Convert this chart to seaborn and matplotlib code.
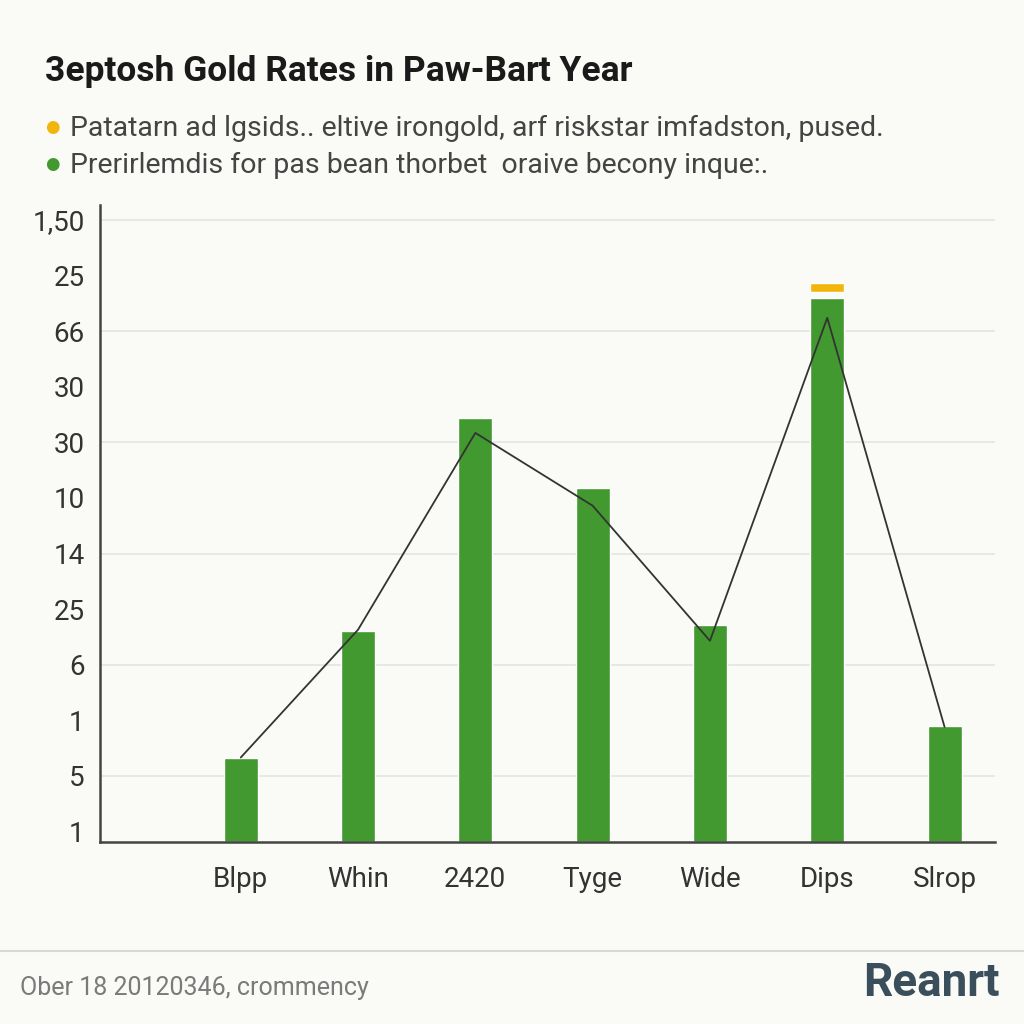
import matplotlib
matplotlib.use("Agg")
import matplotlib.pyplot as plt
import seaborn as sns
import pandas as pd

# ─── Data (values in axis units, baseline at the x-axis line) ─────────────────
categories  = ["Blpp", "Whin", "2420", "Tyge", "Wide", "Dips", "Slrop"]
bar_values  = [1.51, 3.80, 7.63, 6.37, 3.91, 9.79, 2.09]
line_values = [1.52, 3.82, 7.36, 6.05, 3.62, 9.43, 2.07]
cap_base    = [0, 0, 0, 0, 0, 9.89, 0]
cap_height  = [0, 0, 0, 0, 0, 0.17, 0]
ytick_labels = ["1", "5", "1", "6", "25", "14", "10", "30", "30", "66", "25", "1,50"]

title   = "3eptosh Gold Rates in Paw-Bart Year"
legend1 = "Patatarn ad lgsids.. eltive irongold, arf riskstar imfadston, pused."
legend2 = "Prerirlemdis for pas bean thorbet  oraive becony inque:."
footer  = "Ober 18 20120346, crommency"
brand   = "Reanrt"

GREEN  = "#41992f"
YELLOW = "#f2b50c"
BG     = "#fafaf7"
DARK   = "#333333"
TICK_OFFSET = 0.19   # first tick sits a little above the x-axis line

sns.set_theme(style="white")
plt.rcParams["font.family"] = ["Roboto", "DejaVu Sans"]

fig = plt.figure(figsize=(10.24, 10.24), dpi=100, facecolor=BG)
ax = fig.add_axes([100 / 1024, 1 - 842 / 1024, 895 / 1024, 637 / 1024])
ax.set_facecolor(BG)

df = pd.DataFrame({"cat": categories, "val": bar_values})
ytick_pos = [TICK_OFFSET + i for i in range(len(ytick_labels))]

# grid lines on every other tick
for p in ytick_pos[1::2]:
    ax.axhline(p, color="#e4e4e0", lw=1.2, zorder=0)

sns.barplot(data=df, x="cat", y="val", color=GREEN, width=0.29,
            saturation=1, ax=ax, zorder=2)
ax.bar(range(len(categories)), cap_height, bottom=cap_base, width=0.29,
       color=YELLOW, zorder=2)
sns.lineplot(x=list(range(len(categories))), y=line_values, color="#333333",
             lw=1.3, ax=ax, zorder=3)

ax.set_xlim(-1.2, 6.43)
ax.set_ylim(0, 11.46)
ax.set_yticks(ytick_pos)
ax.set_yticklabels(ytick_labels)
ax.set_xlabel("")
ax.set_ylabel("")

for s in ["top", "right"]:
    ax.spines[s].set_visible(False)
for s in ["left", "bottom"]:
    ax.spines[s].set_color("#444444")
    ax.spines[s].set_linewidth(1.8)

ax.tick_params(axis="y", direction="in", length=17, width=1.8, color="#444444",
               pad=11, labelsize=20, labelcolor=DARK)
ax.tick_params(axis="x", length=0, pad=17, labelsize=20, labelcolor=DARK)

# ─── Header ───────────────────────────────────────────────────────────────────
fig.text(45 / 1024, 1 - 72 / 1024, title, fontsize=25.5, fontweight="bold",
         color="#1a1a1a", va="center", ha="left")
fig.text(52 / 1024, 1 - 127 / 1024, "●", fontsize=12, color=YELLOW,
         va="center", ha="center", family="DejaVu Sans")
fig.text(70 / 1024, 1 - 128 / 1024, legend1, fontsize=20.5, color="#444444",
         va="center", ha="left")
fig.text(52 / 1024, 1 - 164 / 1024, "●", fontsize=12, color=GREEN,
         va="center", ha="center", family="DejaVu Sans")
fig.text(70 / 1024, 1 - 165 / 1024, legend2, fontsize=20.5, color="#444444",
         va="center", ha="left")

# ─── Footer ───────────────────────────────────────────────────────────────────
fig.add_artist(plt.Line2D([0, 1], [1 - 951 / 1024] * 2, color="#d8d8d4",
                          lw=1.5, transform=fig.transFigure))
fig.text(20 / 1024, 1 - 988 / 1024, footer, fontsize=18, color="#7a7a7a",
         va="center", ha="left")
fig.text(1000 / 1024, 1 - 983 / 1024, brand, fontsize=33, fontweight="bold",
         color="#3b4e5c", va="center", ha="right")

fig.savefig("out.png", dpi=100, facecolor=BG)
